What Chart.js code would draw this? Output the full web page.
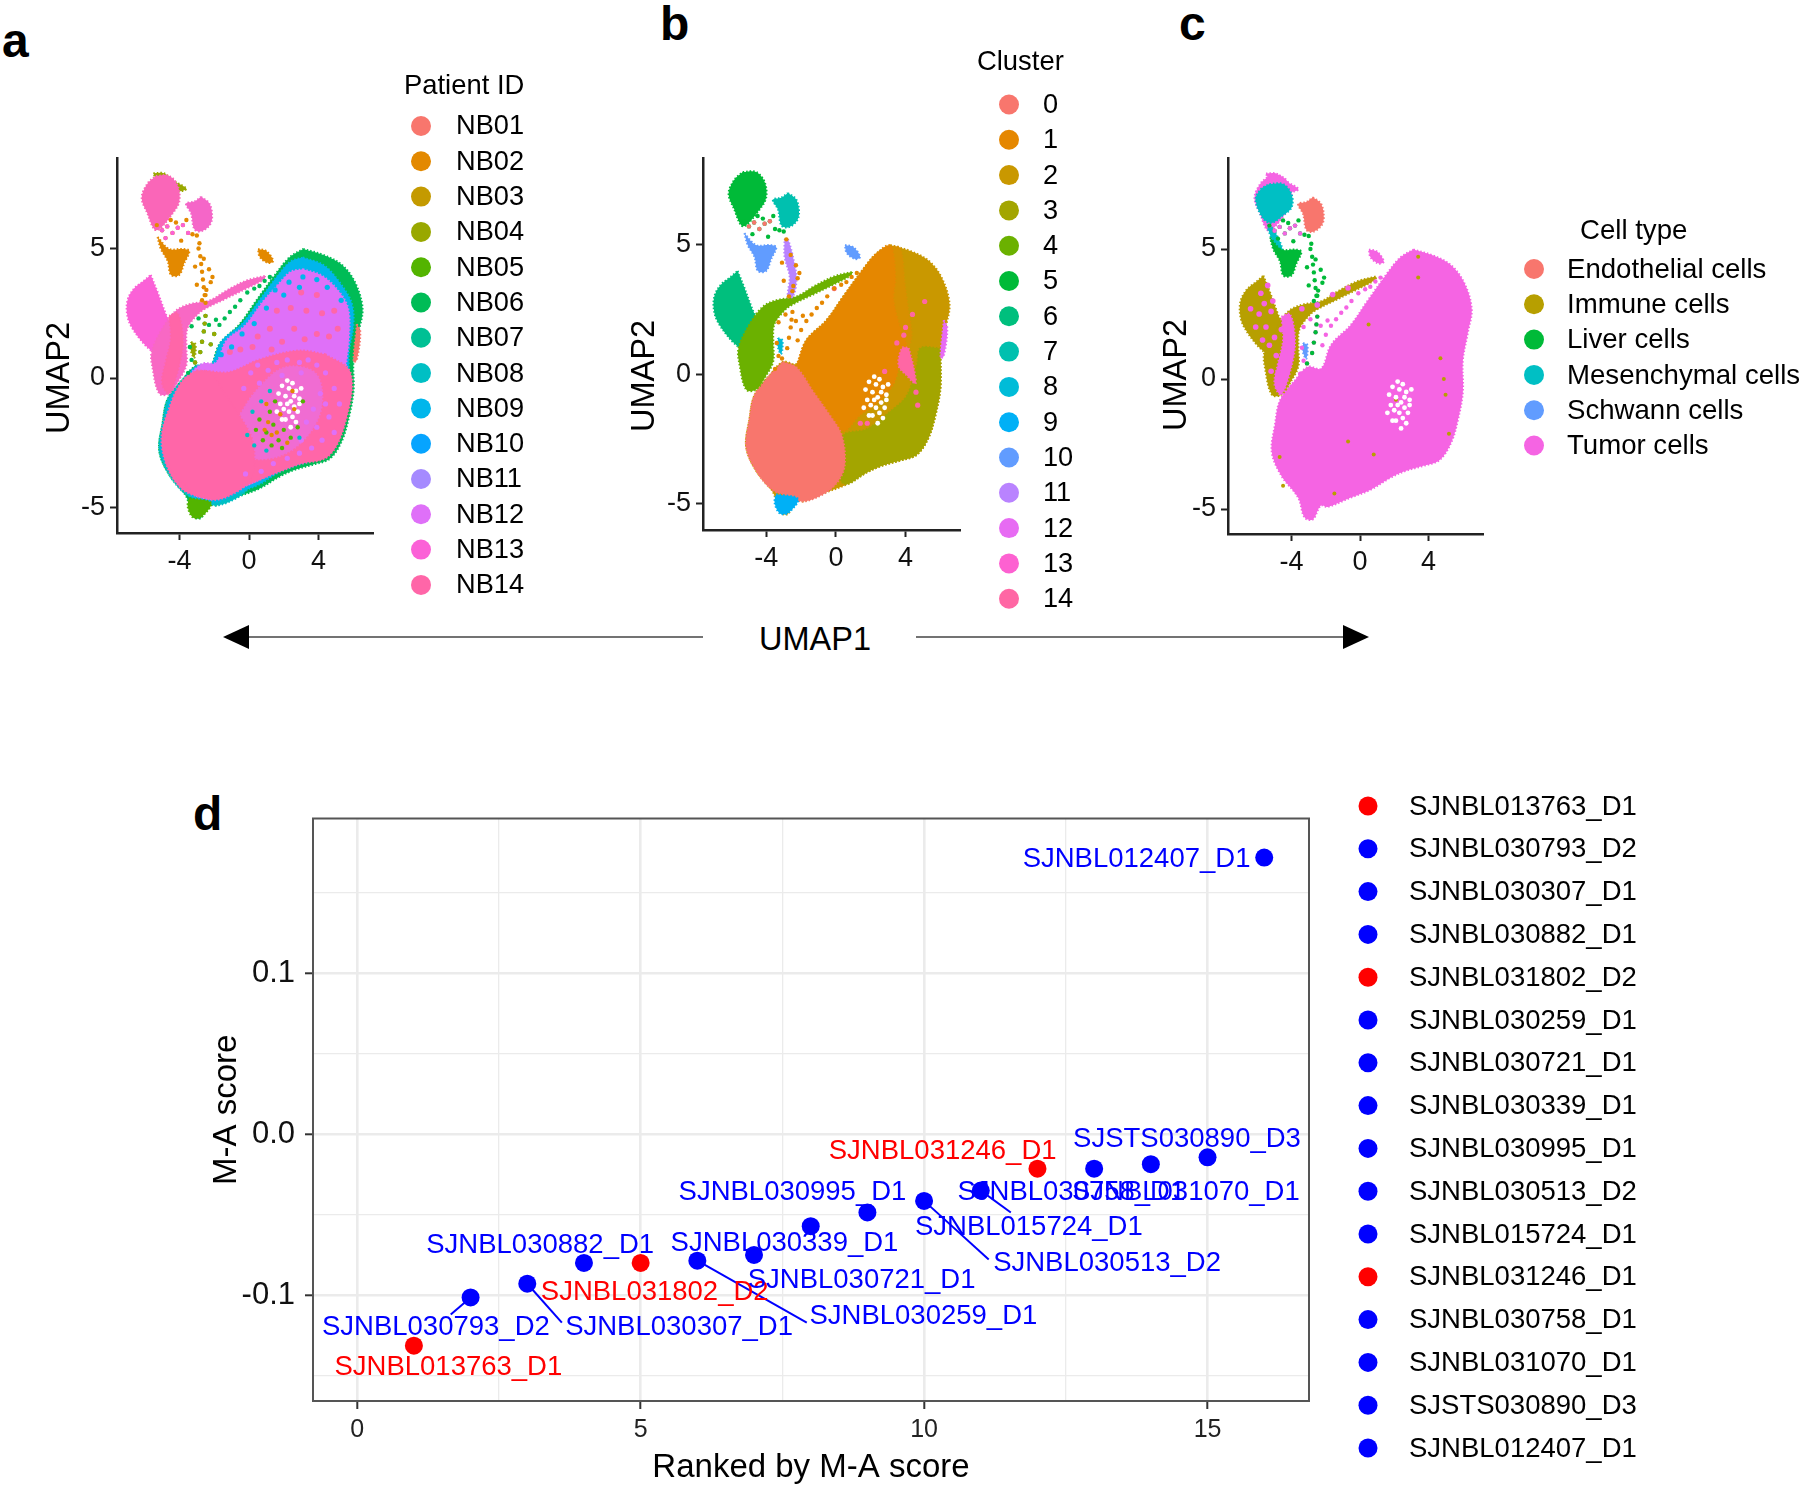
<!DOCTYPE html>
<html><head><meta charset="utf-8">
<style>
html,body{margin:0;padding:0;background:#fff;width:1800px;height:1485px;overflow:hidden;font-family:"Liberation Sans",Arial,sans-serif}
canvas{position:absolute}
.tag{position:absolute;font:bold 48px/1 "Liberation Sans",Arial,sans-serif;color:#000}
#umap1{position:absolute;left:815px;top:639px;transform:translate(-50%,-50%);font:32.5px/1 "Liberation Sans",Arial,sans-serif;color:#000}
svg{position:absolute;left:0;top:0}
</style>
<script src="https://cdn.jsdelivr.net/npm/chart.js@4/dist/chart.umd.min.js"></script>
</head><body>
<div class="tag" style="left:2px;top:17px">a</div>
<div class="tag" style="left:660px;top:0px">b</div>
<div class="tag" style="left:1179px;top:0px">c</div>
<div class="tag" style="left:193px;top:790px">d</div>
<div id="umap1">UMAP1</div>
<svg width="1800" height="700"><g fill="#000" stroke="#444" stroke-width="1.3">
<line x1="246" y1="637" x2="703" y2="637"/><line x1="916" y1="637" x2="1345" y2="637"/>
<path d="M223 637L249 625V649Z" stroke="none"/><path d="M1369 637L1343 625V649Z" stroke="none"/></g></svg>
<canvas id="ca"></canvas><canvas id="cb"></canvas><canvas id="cc"></canvas><canvas id="cd"></canvas>
<script>
// ---------- legends ----------
const patientIDs=["NB01","NB02","NB03","NB04","NB05","NB06","NB07","NB08","NB09","NB10","NB11","NB12","NB13","NB14"];
const patientColors=["#F8766D","#E38900","#C49A00","#99A800","#53B400","#00BC56","#00C094","#00BFC4","#00B6EB","#06A4FF","#A58AFF","#DF70F8","#FB61D7","#FF66A8"];
const clusterIDs=["0","1","2","3","4","5","6","7","8","9","10","11","12","13","14"];
const clusterColors=["#F8766D","#E58700","#C99800","#A3A500","#6BB100","#00BA38","#00BF7D","#00C0AF","#00BCD8","#00B0F6","#619CFF","#B983FF","#E76BF3","#FD61D1","#FF67A4"];
const cellTypes=["Endothelial cells","Immune cells","Liver cells","Mesenchymal cells","Schwann cells","Tumor cells"];
const cellColors=["#F8766D","#B79F00","#00BA38","#00BFC4","#619CFF","#F564E3"];
// ---------- axis ticks ----------
const umapXTicks=[-4,0,4];
const umapYTicks=[-5,0,5];
const rankMajor=[0,5,10,15];
const rankMinor=[2.5,7.5,12.5];
const scoreMajor=[-0.1,0,0.1];
const scoreMinor=[-0.15,-0.05,0.05,0.15];
// ---------- UMAP outlines (UMAP1, UMAP2) ----------
const blobOutline=[[3.12,4.98],[4.28,4.75],[5.34,4.37],[6.11,3.68],[6.53,2.69],[6.30,1.77],[6.01,0.70],[6.01,-0.52],[5.72,-1.59],[5.34,-2.43],[4.66,-3.11],[3.70,-3.34],[2.64,-3.54],[1.77,-3.80],[0.62,-4.26],[-0.54,-4.56],[-1.89,-4.92],[-2.30,-4.87],[-2.76,-5.40],[-3.24,-5.33],[-3.62,-4.56],[-4.59,-3.73],[-5.16,-2.81],[-4.97,-1.74],[-4.68,-0.82],[-3.82,-0.06],[-3.04,0.47],[-2.27,0.40],[-1.70,1.31],[-0.54,2.08],[0.42,2.99],[1.58,4.06],[2.35,4.67],[3.12,4.98]];
const blobBlueInner=[[3.1,4.65],[4.3,4.35],[5.2,3.7],[5.9,2.9],[6.0,2.0],[5.75,1.0],[5.75,-0.5],[5.5,-1.6],[5.1,-2.4],[4.5,-2.95],[3.6,-3.2],[2.6,-3.4],[1.7,-3.65],[0.6,-4.1],[-0.5,-4.4],[-1.9,-4.78],[-2.9,-4.7],[-3.6,-4.4],[-4.5,-3.6],[-5.05,-2.75],[-4.85,-1.7],[-4.5,-0.8],[-3.7,0],[-2.9,0.5],[-2.2,0.5],[-1.6,1.4],[-0.4,2.1],[0.6,3.0],[1.7,4.0],[2.4,4.5],[3.1,4.65]];
const blobPurpleInner=[[3.1,4.2],[4.2,3.95],[5.1,3.4],[5.7,2.7],[5.75,1.5],[5.55,0.3],[5.45,-1.4],[5.0,-2.3],[4.4,-2.85],[3.5,-3.1],[2.5,-3.3],[1.6,-3.55],[0.5,-3.95],[-0.5,-4.25],[-1.9,-4.65],[-3.0,-4.55],[-3.5,-4.25],[-4.4,-3.5],[-4.9,-2.7],[-4.7,-1.7],[-4.3,-0.8],[-3.5,0.05],[-2.7,0.55],[-1.9,0.6],[-1.3,1.45],[-0.2,2.05],[0.8,2.95],[1.8,3.7],[2.4,4.1],[3.1,4.2]];
const blobPinkLower=[[4.39,0.92],[5.83,0.23],[5.61,-1.55],[4.6,-3.0],[2.84,-3.34],[-0.27,-4.17],[-2.04,-4.65],[-4.04,-4.17],[-5.03,-2.38],[-4.04,-0.45],[-2.93,0.23],[-1.15,0.23],[0.62,0.72],[2.84,1.06],[4.39,0.92]];
const blobMixCore=[[-0.6,-1.5],[0.4,-0.5],[2.0,0.4],[3.8,0.2],[4.2,-1.0],[3.4,-2.2],[1.8,-3.0],[0.0,-3.0],[-0.6,-1.5]];
const lobeInner=[[-3.0,0.3],[-2.2,0.2],[-1.3,-0.7],[-0.4,-1.6],[0.2,-2.4],[0.3,-3.4],[0.1,-3.9],[-0.6,-4.35],[-1.9,-4.7],[-3.0,-4.5],[-3.6,-4.2],[-4.5,-3.5],[-4.95,-2.7],[-4.75,-1.7],[-4.4,-0.8],[-3.7,0],[-3.0,0.3]];
const lowerLobe=[[-3.04,0.47],[-2.27,0.26],[-1.31,-0.67],[-0.35,-1.59],[0.33,-2.35],[0.52,-3.42],[0.23,-4.03],[-0.54,-4.56],[-1.89,-4.92],[-2.66,-4.72],[-3.62,-4.49],[-4.59,-3.73],[-5.16,-2.81],[-4.97,-1.74],[-4.68,-0.82],[-3.82,-0.06],[-3.04,0.47]];
const lowerRight=[[6.01,0.99],[6.01,-0.52],[5.72,-1.59],[5.34,-2.43],[4.66,-3.11],[3.70,-3.34],[2.64,-3.54],[1.77,-3.80],[0.62,-4.26],[0.23,-4.03],[0.52,-3.0],[0.43,-2.35],[1.77,-2.12],[3.12,-1.44],[4.08,-0.82],[4.66,0.40],[4.85,1.0],[6.01,0.99]];
const centerBand=[[-2.27,0.32],[-1.70,1.31],[-0.54,2.08],[0.42,2.99],[1.58,4.06],[2.35,4.67],[3.12,4.95],[3.41,3.77],[3.31,2.85],[3.70,1.77],[4.08,1.0],[3.80,0.70],[3.31,-0.37],[2.35,-1.13],[1.37,-1.59],[0.43,-2.20],[-0.35,-1.59],[-1.31,-0.67],[-2.27,0.32]];
const centerBlend=[[3.12,4.95],[3.7,4.85],[3.95,3.5],[4.15,2.5],[4.35,1.5],[4.1,1.0],[3.7,1.77],[3.31,2.85],[3.41,3.77],[3.12,4.95]];
const innerPatch=[[4.18,1.01],[4.47,0.24],[4.57,-0.37],[4.08,-0.06],[3.60,0.32],[3.80,1.01],[4.18,1.01]];
const edgePatch=[[6.2,2.08],[6.4,1.77],[6.2,0.70],[6.01,0.63],[6.2,2.08]];
const leftBlob=[[-5.65,3.98],[-5.3,3.4],[-4.8,2.5],[-4.5,2.0],[-4.6,1.2],[-5.2,0.8],[-5.55,1.01],[-6.03,1.31],[-6.71,1.92],[-6.99,2.38],[-6.99,2.99],[-6.61,3.45],[-6.03,3.76],[-5.65,3.98]];
const armBand=[[0.91,3.94],[-0.15,3.76],[-1.31,3.37],[-2.27,2.99],[-3.43,2.85],[-4.20,2.6],[-4.97,1.92],[-5.6,1.01],[-5.55,0.40],[-5.16,-0.60],[-4.59,-0.60],[-4.01,-0.06],[-3.6,0.5],[-3.6,1.2],[-3.55,1.9],[-3.1,2.35],[-2.66,2.62],[-1.31,3.07],[-0.15,3.45],[0.91,3.83],[0.91,3.94]];
const armLowerPatch=[[-4.6,2.4],[-4.1,2.5],[-3.8,1.5],[-4.0,0.5],[-4.6,-0.6],[-5.0,-0.2],[-4.8,0.6],[-4.5,1.5],[-4.6,2.4]];
const topBlob=[[-5.36,7.80],[-4.59,7.80],[-4.10,7.42],[-4.01,6.81],[-4.39,6.35],[-5.16,5.74],[-5.45,5.74],[-5.84,6.35],[-6.17,6.96],[-5.84,7.50],[-5.36,7.80]];
const topFringe=[[-5.5,7.9],[-4.9,7.9],[-4.3,7.6],[-3.6,7.3],[-4.3,7.2],[-5.2,7.5],[-5.5,7.9]];
const topCyanCore=[[-5.3,7.5],[-4.5,7.5],[-4.0,7.1],[-4.0,6.6],[-4.5,6.3],[-5.2,6.0],[-5.7,6.2],[-6.1,6.9],[-5.8,7.3],[-5.3,7.5]];
const topStrip=[[-5.4,5.8],[-5.1,5.8],[-4.5,4.9],[-4.8,4.8],[-5.4,5.8]];
const sideBlob=[[-2.76,6.99],[-2.27,6.73],[-2.12,6.20],[-2.27,5.89],[-2.76,5.66],[-3.14,5.74],[-3.33,6.35],[-3.62,6.73],[-3.14,6.81],[-2.76,6.99]];
const footBlob=[[-5.26,5.44],[-4.59,4.98],[-3.82,4.98],[-3.43,4.90],[-3.72,4.44],[-4.01,3.98],[-4.49,3.98],[-4.68,4.52],[-5.07,4.98],[-5.26,5.44]];
const islet=[[0.52,4.98],[1.0,4.90],[1.39,4.52],[1.10,4.44],[0.62,4.67],[0.52,4.98]];
const stem=[[-2.95,5.21],[-2.76,5.21],[-2.37,4.21],[-2.27,3.60],[-2.47,2.99],[-2.76,2.99],[-2.66,3.76],[-2.95,4.52],[-2.95,5.21]];
const bottomTip=[[-3.43,-4.64],[-2.18,-4.82],[-2.76,-5.37],[-3.24,-5.37],[-3.53,-4.95],[-3.43,-4.64]];
const midSpot=[[-3.33,1.39],[-3.08,1.31],[-3.14,0.78],[-3.33,1.01],[-3.33,1.39]];
// ---------- scattered cells ----------
const gapCells=[[-3.1,0.6],[-2.8,1.0],[-2.7,1.4],[-2.6,1.8],[-2.55,2.1],[-2.5,2.4],[-2.2,1.3],[-2.0,1.7],[-1.7,2.05],[-1.4,2.3],[-1.1,2.55],[-0.8,2.75],[-0.5,3.0],[-0.1,3.3],[0.3,3.45],[0.6,3.55],[0.9,3.75],[1.2,3.9],[-3.5,0.2],[-3.3,0.7],[-3.4,1.2],[-3.3,2.0],[-2.9,2.3],[-1.9,2.25],[-2.3,2.05]];
const loopCells=[[-5.0,5.7],[-4.7,5.85],[-4.4,5.6],[-4.1,5.8],[-3.8,5.9],[-3.5,5.6],[-4.8,5.4],[-3.9,5.3],[-3.6,6.1],[-4.5,6.1],[-3.25,5.55],[-3.0,5.5],[-4.2,6.0],[-5.3,5.9]];
const stemCells=[[-2.9,5.0],[-2.8,4.7],[-2.75,4.4],[-2.7,4.1],[-2.65,3.8],[-2.6,3.5],[-2.55,3.2],[-2.5,2.9],[-2.6,4.6],[-2.3,4.2],[-3.1,4.3],[-2.2,3.7],[-2.5,3.2],[-3.0,3.6],[-2.1,3.9],[-2.85,5.2],[-2.45,3.4],[-2.7,3.0]];
const holeCells=[[1.7,-0.6],[1.9,-0.3],[2.1,-0.7],[2.3,-0.4],[2.5,-0.2],[2.7,-0.5],[2.9,-0.8],[2.2,-1.0],[2.4,-0.9],[2.6,-1.1],[2.0,-1.2],[1.8,-1.0],[2.8,-1.3],[2.5,-1.5],[2.3,-1.3],[2.1,-1.6],[2.7,-1.7],[2.4,-1.9],[1.9,-1.6],[3.0,-0.4],[2.9,-1.0],[1.6,-1.3],[2.2,-0.1],[2.6,-0.7]];
const coreGreen=[[0.6,-1.6],[1.0,-2.1],[1.4,-1.8],[1.7,-2.4],[2.0,-2.0],[2.4,-2.3],[1.2,-1.3],[0.8,-2.4],[2.8,-1.9],[3.1,-0.9],[1.5,-0.9],[0.4,-2.0],[1.9,-2.7],[1.3,-2.6]];
const coreOrange=[[1.1,-1.7],[1.6,-2.1],[2.2,-2.5],[0.9,-2.0],[1.8,-1.4],[2.6,-1.2],[1.3,-2.2],[2.5,-0.5],[1.0,-1.0]];
const coreCyan=[[0.2,-1.3],[0.7,-0.9],[1.2,-0.5],[-0.1,-2.2],[0.3,-2.6],[1.0,-2.8],[2.9,-2.3]];
const mixPurple=[[-0.3,-0.4],[0.1,0.2],[0.6,-0.2],[1.1,0.3],[1.6,0.6],[2.2,0.7],[2.9,0.6],[3.4,0.7],[3.9,0.5],[4.4,0.2],[4.9,-0.4],[5.2,-1.0],[4.6,-1.5],[4.9,-2.1],[4.2,-2.4],[3.6,-2.7],[2.9,-2.9],[2.2,-3.1],[1.4,-3.3],[0.7,-3.6],[-0.2,-3.7],[4.1,-0.6],[3.7,-1.2],[3.3,-1.7],[4.4,-1.0],[3.9,-1.9],[3.0,-2.4],[0.5,0.5],[1.9,0.1],[3.0,0.2]];
const pinkInPurple=[[0.5,1.6],[1.2,1.9],[1.9,1.4],[2.6,1.9],[3.2,1.5],[3.9,1.7],[4.6,1.6],[5.1,1.9],[2.4,2.7],[3.3,2.6],[4.2,2.5],[4.9,2.6],[1.6,2.6],[3.0,3.3],[3.9,3.2],[0.2,1.2],[1.3,1.1],[-0.5,1.1],[-1.1,1.0]];
const blueInPurple=[[1.5,3.4],[2.3,3.7],[3.1,3.9],[3.9,3.8],[4.5,3.5],[1.0,2.7],[0.3,2.1],[-0.4,1.7],[-1.0,1.2],[-1.6,0.9],[5.3,3.0],[2.0,3.2],[2.9,3.5]];
const olivePepper=[[3.4,4.7],[3.4,3.9],[0.5,2.1],[4.7,0.8],[4.9,0.0],[5.0,-0.6],[5.2,-2.1],[-0.7,-2.4],[0.8,-2.9],[-1.5,-4.4],[-4.7,-3.0],[-4.5,-4.1],[2.1,-0.8]];
const magentaLeft=[[-5.4,3.6],[-5.6,2.9],[-5.2,2.6],[-5.5,2.0],[-5.0,1.6],[-5.7,1.5],[-5.9,2.5],[-5.1,3.0],[-5.3,1.3],[-6.1,2.0],[-4.9,0.9],[-5.2,0.3],[-4.6,1.9],[-3.4,2.7],[-2.5,2.85],[-1.6,3.25],[-6.4,2.7],[-5.8,3.3],[-4.8,0.2],[-4.4,1.1],[-0.7,3.5]];
const pinkInBand=[[3.9,1.5],[4.0,1.8],[3.5,1.2],[5.1,2.8],[4.4,2.3],[2.8,0.1],[1.4,-1.9],[1.8,-1.9],[4.6,-0.7],[4.7,-1.2],[-0.1,3.3]];
// ---------- sample scores (panel d) ----------
const sampleNames=["SJNBL013763_D1","SJNBL030793_D2","SJNBL030307_D1","SJNBL030882_D1","SJNBL031802_D2","SJNBL030259_D1","SJNBL030721_D1","SJNBL030339_D1","SJNBL030995_D1","SJNBL030513_D2","SJNBL015724_D1","SJNBL031246_D1","SJNBL030758_D1","SJNBL031070_D1","SJSTS030890_D3","SJNBL012407_D1"];
const sampleRanks=[1,2,3,4,5,6,7,8,9,10,11,12,13,14,15,16];
const maScores=[-0.1314,-0.1014,-0.0929,-0.08,-0.08,-0.0786,-0.075,-0.0571,-0.0486,-0.0414,-0.035,-0.0214,-0.0214,-0.0186,-0.0143,0.172];
const sampleColors=["#FF0000","#0000FF","#0000FF","#0000FF","#FF0000","#0000FF","#0000FF","#0000FF","#0000FF","#0000FF","#0000FF","#FF0000","#0000FF","#0000FF","#0000FF","#0000FF"];
const labelRanks=[1.59,1.37,5.66,3.21,5.23,9.97,8.88,7.52,7.66,13.21,11.83,10.31,12.58,14.6,14.62,13.73];
const labelScores=[-0.1443,-0.1193,-0.1193,-0.0679,-0.0971,-0.1121,-0.09,-0.0671,-0.035,-0.0793,-0.0571,-0.01,-0.035,-0.035,-0.0021,0.1721];
const leaderFrom=[1,2,5,9,10];
const leaderEndRank=[1.65,3.61,7.93,11.14,11.53];
const leaderEndScore=[-0.1121,-0.1171,-0.1171,-0.0779,-0.0486];

const FONT='"Liberation Sans",Arial,sans-serif';
const pts=a=>a.map(p=>({x:p[0],y:p[1]}));
const region=(a,c,t)=>({data:pts(a),showLine:true,fill:'shape',backgroundColor:c,borderColor:c,borderWidth:2,borderDash:[1.5,2],pointRadius:0,tension:t===undefined?0.35:t});
const cells=(a,c,r)=>({data:pts(a),showLine:false,backgroundColor:c,borderColor:c,borderWidth:0,pointRadius:r||2.2});
// layers are listed bottom to top; Chart.js paints lower "order" last
const stack=l=>l.map((d,i)=>Object.assign(d,{order:l.length-i}));

const paper={
 id:'paper',
 afterDraw(chart){
  const o=chart.options.plugins.paper,ctx=chart.ctx;
  ctx.save();ctx.fillStyle='#000';ctx.textBaseline='middle';
  if(o.side){ctx.save();ctx.translate(o.side.x,o.side.y);ctx.rotate(-Math.PI/2);ctx.textAlign='center';ctx.font='32.5px '+FONT;ctx.fillText(o.side.text,0,0);ctx.restore();}
  ctx.textAlign='left';
  if(o.title){ctx.font=o.title.size+'px '+FONT;ctx.fillText(o.title.text,o.title.x,o.title.y+1);}
  ctx.font=o.size+'px '+FONT;
  o.labels.forEach((t,i)=>{const y=o.y0+i*o.dy;
   ctx.fillStyle=o.colors[i];ctx.beginPath();ctx.arc(o.dotX,y,o.r,0,Math.PI*2);ctx.fill();
   ctx.fillStyle='#000';ctx.fillText(t,o.textX,y+1);});
  ctx.restore();
 }
};
const boxFrame={
 id:'boxFrame',
 afterDatasetsDraw(chart){
  const a=chart.chartArea,c=chart.ctx;c.save();c.strokeStyle='#555';c.lineWidth=2;c.strokeRect(a.left,a.top,a.width,a.height);
  c.restore();
 }
};
const repelLabels={
 id:'repelLabels',
 afterDatasetsDraw(chart){
  const c=chart.ctx,x=chart.scales.x,y=chart.scales.y;c.save();c.font='27.5px '+FONT;c.textAlign='center';c.textBaseline='middle';
  sampleNames.forEach((n,i)=>{c.fillStyle=sampleColors[i];c.fillText(n,x.getPixelForValue(labelRanks[i])+1,y.getPixelForValue(labelScores[i])+1.5);});
  c.restore();
 }
};

function umap(id,box,area,xr,yr,layers,legend){
 const cv=document.getElementById(id);
 cv.width=box[2];cv.height=box[3];cv.style.left=box[0]+'px';cv.style.top=box[1]+'px';
 const yw=60,xh=50;
 legend.dotX-=box[0];legend.textX-=box[0];legend.y0-=box[1];
 if(legend.title){legend.title.x-=box[0];legend.title.y-=box[1];}
 legend.side.x-=box[0];legend.side.y-=box[1];
 return new Chart(cv,{type:'scatter',data:{datasets:stack(layers)},plugins:[paper],options:{
  responsive:false,animation:false,devicePixelRatio:1,events:[],
  layout:{padding:{left:area.l-box[0]-yw,top:area.t-box[1],right:box[0]+box[2]-area.r,bottom:box[1]+box[3]-area.b-xh}},
  plugins:{legend:{display:false},tooltip:{enabled:false},filler:{drawTime:'beforeDatasetDraw',propagate:false},paper:legend},
  scales:{
   x:{type:'linear',min:xr[0],max:xr[1],afterBuildTicks:s=>{s.ticks=umapXTicks.map(v=>({value:v}));},afterFit:s=>{s.height=xh;},
      grid:{drawOnChartArea:false,drawTicks:true,tickLength:7,tickColor:'#222',tickWidth:2},border:{color:'#222',width:2.5},
      ticks:{color:'#111',font:{size:27,family:FONT},padding:5,maxRotation:0,autoSkip:false,callback:v=>String(v)}},
   y:{type:'linear',min:yr[0],max:yr[1],afterBuildTicks:s=>{s.ticks=umapYTicks.map(v=>({value:v}));},afterFit:s=>{s.width=yw;},
      grid:{drawOnChartArea:false,drawTicks:true,tickLength:7,tickColor:'#222',tickWidth:2},border:{color:'#222',width:2.5},
      ticks:{color:'#111',font:{size:27,family:FONT},padding:5,autoSkip:false,callback:v=>String(v)}}
  }}});
}

const P=patientColors,C=clusterColors,T=cellColors;
umap('ca',[20,60,600,560],{l:117,t:158,r:373,b:533},[-7.59,7.13],[-5.98,8.49],[
 region(blobOutline,P[5]),region(lowerLobe,P[7]),region(blobBlueInner,P[8]),region(blobPurpleInner,P[11]),
 region(blobPinkLower,P[13]),region(blobMixCore,'#F06CD2'),region(lobeInner,P[13]),
 region(edgePatch,P[0]),region(bottomTip,P[4]),
 region(leftBlob,P[12]),region(armBand,'#F868C4'),region(armLowerPatch,P[13]),
 region(topFringe,P[3]),region(topBlob,'#FA66B8'),region(sideBlob,'#F566C8'),
 region(footBlob,P[1]),region(islet,P[1]),region(midSpot,P[3]),
 cells(mixPurple,P[11],2.6),cells(pinkInPurple,P[13],3),cells(blueInPurple,P[8],2.6),
 cells(gapCells,P[5]),cells(gapCells.slice(0,8),P[3]),cells(loopCells,P[1]),cells(loopCells.slice(0,7),P[12]),cells(stemCells,P[1]),
 cells(holeCells,'#FFFFFF',2.4),cells(coreGreen,P[4]),cells(coreOrange,P[1]),cells(coreCyan,P[7])
],{title:{text:'Patient ID',x:404,y:85,size:27.4},labels:patientIDs,colors:patientColors,size:27.2,dotX:421,textX:456,y0:126,dy:35.3,r:10,side:{text:'UMAP2',x:60,y:378}});

umap('cb',[620,30,530,590],{l:703,t:158,r:960,b:530},[-7.64,7.13],[-6.02,8.34],[
 region(blobOutline,C[2]),region(centerBlend,'#D79000'),region(centerBand,C[1]),region(lowerRight,C[3]),region(lowerLobe,C[0]),
 region(innerPatch,C[14]),region(edgePatch,C[12]),region(bottomTip,C[9]),
 region(leftBlob,C[6]),region(armBand,C[4]),region(topBlob,C[5]),region(sideBlob,C[7]),
 region(footBlob,C[10]),region(islet,C[10]),region(stem,C[11]),region(midSpot,C[8]),
 cells(pinkInBand,C[14],2.6),cells(gapCells,C[1]),cells(loopCells,C[5]),cells(loopCells.slice(0,5),C[0]),cells(stemCells.slice(8),C[1]),
 cells(holeCells,'#FFFFFF',2.4)
],{title:{text:'Cluster',x:977,y:61,size:27.4},labels:clusterIDs,colors:clusterColors,size:27.2,dotX:1009,textX:1043,y0:104.5,dy:35.3,r:10,side:{text:'UMAP2',x:645,y:376}});

umap('cc',[1140,60,660,560],{l:1228,t:158,r:1483,b:534},[-7.72,7.19],[-5.96,8.5],[
 region(blobOutline,T[5]),region(islet,T[5]),
 region(leftBlob,T[1]),region(armBand,T[1]),region(armLowerPatch,T[5]),
 region(topFringe,T[5]),region(topBlob,T[5]),region(topCyanCore,T[3]),region(topStrip,T[3]),
 region(sideBlob,T[0]),region(footBlob,T[2]),region(midSpot,T[4]),
 cells(gapCells,T[5]),cells(gapCells.slice(0,6),T[2]),cells(loopCells,T[2]),cells(loopCells.slice(0,6),T[5]),cells(stemCells,T[2]),
 cells(magentaLeft,T[5],2.8),cells(olivePepper,T[1],2),
 cells(holeCells,'#FFFFFF',2.4)
],{title:{text:'Cell type',x:1580,y:230,size:27.6},labels:cellTypes,colors:cellColors,size:27.6,dotX:1534,textX:1567,y0:269,dy:35.3,r:10,side:{text:'UMAP2',x:1177,y:375}});

// panel d
(function(){
 const cv=document.getElementById('cd'),box=[180,770,1620,718],yw=110,xh=87;
 const a={l:313,t:818.5,r:1309,b:1400.5};
 cv.width=box[2];cv.height=box[3];cv.style.left=box[0]+'px';cv.style.top=box[1]+'px';
 const leaders=leaderFrom.map((k,i)=>({data:[{x:sampleRanks[k],y:maScores[k]},{x:leaderEndRank[i],y:leaderEndScore[i]}],showLine:true,borderColor:'#0000FF',borderWidth:2,pointRadius:0,order:2}));
 const isMajor=(list,v)=>list.some(m=>Math.abs(m-v)<1e-6);
 new Chart(cv,{type:'scatter',data:{datasets:[
   {data:sampleRanks.map((r,i)=>({x:r,y:maScores[i]})),backgroundColor:sampleColors,borderColor:sampleColors,borderWidth:0,pointRadius:9,order:1},
   ...leaders]},
  plugins:[boxFrame,repelLabels,paper],
  options:{responsive:false,animation:false,devicePixelRatio:1,events:[],
   layout:{padding:{left:a.l-box[0]-yw,top:a.t-box[1],right:box[0]+box[2]-a.r,bottom:0}},
   plugins:{legend:{display:false},tooltip:{enabled:false},
    paper:{labels:sampleNames,colors:sampleColors,size:27.5,dotX:1368-box[0],textX:1409-box[0],y0:806-box[1],dy:42.8,r:9.5}},
   scales:{
    x:{type:'linear',min:-0.78,max:16.79,
     afterBuildTicks:s=>{s.ticks=rankMajor.concat(rankMinor).sort((p,q)=>p-q).map(v=>({value:v}));},afterFit:s=>{s.height=xh;},
     title:{display:true,text:'Ranked by M-A score',color:'#000',font:{size:33,family:FONT},padding:{top:0,bottom:0}},
     grid:{color:'#EBEBEB',lineWidth:c=>isMajor(rankMajor,c.tick.value)?2.6:1.3,tickColor:c=>isMajor(rankMajor,c.tick.value)?'#333':'transparent',tickWidth:2,tickLength:8},
     border:{display:false},
     ticks:{color:'#222',font:{size:25,family:FONT},padding:6,maxRotation:0,autoSkip:false,callback:v=>isMajor(rankMajor,v)?String(v):''}},
    y:{type:'linear',min:-0.1658,max:0.1963,
     afterBuildTicks:s=>{s.ticks=scoreMajor.concat(scoreMinor).sort((p,q)=>p-q).map(v=>({value:v}));},afterFit:s=>{s.width=yw;},
     title:{display:true,text:'M-A score',color:'#000',font:{size:33,family:FONT},padding:{top:4,bottom:0}},
     grid:{color:'#EBEBEB',lineWidth:c=>isMajor(scoreMajor,c.tick.value)?2.6:1.3,tickColor:c=>isMajor(scoreMajor,c.tick.value)?'#333':'transparent',tickWidth:2,tickLength:8},
     border:{display:false},
     ticks:{color:'#111',font:{size:31,family:FONT},padding:10,autoSkip:false,callback:v=>isMajor(scoreMajor,v)?v.toFixed(1):''}}
   }}});
})();
</script>
</body></html>
